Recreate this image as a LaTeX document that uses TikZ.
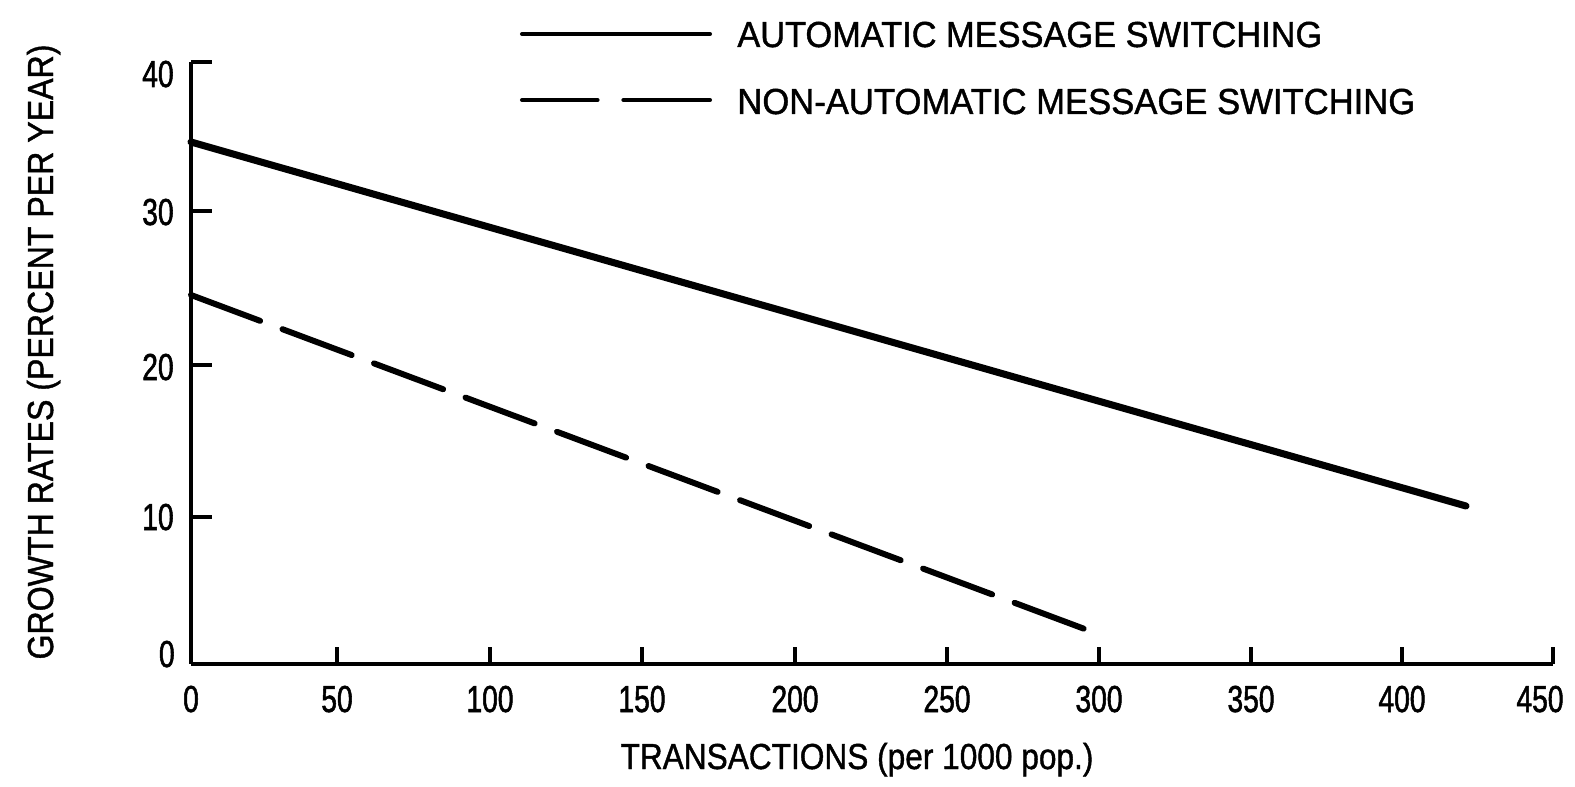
\documentclass[tikz,border=0pt]{standalone}
\usepackage{fontspec}
\setmainfont{Liberation Sans}[FakeBold=1.2]
\newfontfamily\numfont{Liberation Sans}[FakeStretch=0.75,FakeBold=1.4]
\newcommand\fitw[2]{\resizebox{#1}{\height}{#2}}
\begin{document}
\begin{tikzpicture}[x=0.02cm,y=-0.02cm,
  lbl/.style={inner sep=0pt,font=\fontsize{20.6}{24}\selectfont},
  num/.style={inner sep=0pt,font=\numfont\fontsize{21.4}{24}\selectfont},
  axisy/.style={line width=2.8pt},
  axisx/.style={line width=2pt},
  tickmark/.style={line width=1.8pt},
  autoline/.style={line width=4pt,line cap=round},
  nonautoline/.style={line width=3.4pt,line cap=round,dash pattern=on 42pt off 13.6pt},
  legsolid/.style={line width=2.3pt,line cap=round},
  legdash/.style={line width=2.3pt,line cap=round,dash pattern=on 43pt off 14.7pt on 120pt off 1pt}]
\useasboundingbox (0,0) rectangle (1575,787);
% axes
\coordinate (O) at (191,664);
\coordinate (Ytop) at (191,62);
\coordinate (Xend) at (1553,664);
\draw[axisy] (Ytop) -- (O);
\draw[axisx] (O) -- (Xend);
% y ticks and labels
\foreach \yy/\lab/\bl in {62/40/87, 211/30/225, 365/20/380, 517/10/530} {
  \draw[tickmark] (191,\yy) -- (212,\yy);
  \node[num,anchor=base east] (y\lab) at (174,\bl) {\lab};
}
\node[num,anchor=base east] (y0) at (175,667) {0};
% x ticks and labels
\foreach \xx/\lab in {337/50, 490/100, 642/150, 795/200, 947/250, 1099/300, 1251/350, 1402/400, 1553/450} {
  \draw[tickmark] (\xx,664) -- (\xx,647);
}
\foreach \xx/\lab in {191/0, 337/50, 490/100, 642/150, 795/200, 947/250, 1099/300, 1251/350, 1402/400, 1540/450} {
  \node[num,anchor=base] (x\lab) at (\xx,712) {\lab};
}
% data lines
\coordinate (a0) at (191,142);
\coordinate (a1) at (1466,506);
\draw[autoline] (a0) -- (a1);
\coordinate (n0) at (191,295);
\coordinate (n1) at (1090,631);
\draw[nonautoline] (n0) -- (n1);
% legend
\coordinate (l1a) at (522,34);
\coordinate (l1b) at (710,34);
\draw[legsolid] (l1a) -- (l1b);
\coordinate (l2a) at (522,100);
\coordinate (l2b) at (710,100);
\draw[legdash] (l2a) -- (l2b);
\node[lbl,anchor=base west] (t1) at (737,47) {\fitw{11.7cm}{AUTOMATIC MESSAGE SWITCHING}};
\node[lbl,anchor=base west] (t2) at (737,114) {\fitw{13.56cm}{NON-AUTOMATIC MESSAGE SWITCHING}};
% axis titles
\node[lbl,anchor=base] (xt) at (857,769) {\fitw{9.46cm}{TRANSACTIONS (per 1000 pop.)}};
\node[lbl,anchor=base,rotate=90] (yt) at (53,352) {\fitw{12.3cm}{GROWTH RATES (PERCENT PER YEAR)}};
\end{tikzpicture}
\end{document}
